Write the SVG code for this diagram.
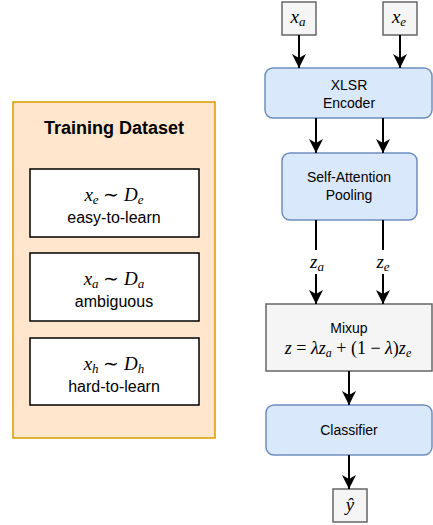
<svg xmlns="http://www.w3.org/2000/svg" width="433" height="525" viewBox="0 0 433 525">
<style>
.sans{font-family:"Liberation Sans",Arial,sans-serif;fill:#000}
.math{font-family:"Liberation Serif","Times New Roman",serif;font-style:italic;fill:#000}
.rm{font-style:normal}
.blue{fill:#dae8fc;stroke:#6c8ebf;stroke-width:1.5}
.grey{fill:#f5f5f5;stroke:#666666;stroke-width:1.5}
.white{fill:#ffffff;stroke:#000000;stroke-width:1.5}
.edge{stroke:#000;stroke-width:2;fill:none}
</style>
<defs>
<marker id="arr" markerUnits="userSpaceOnUse" markerWidth="14" markerHeight="14" viewBox="0 0 14 14" refX="14" refY="7" orient="auto">
<path d="M0,0 L14,7 L0,14 L4,7 z" fill="#000"/>
</marker>
</defs>
<g id="dataset">
<rect x="13" y="102" width="202" height="336" fill="#ffe6cc" stroke="#d79b00" stroke-width="1.5"/>
<text class="sans" x="114" y="134" text-anchor="middle" font-size="18" font-weight="bold">Training Dataset</text>
</g>
<g id="easy">
<rect class="white" x="30" y="169" width="169" height="68"/>
<text class="math" x="114" y="201" text-anchor="middle" font-size="19">x<tspan font-size="13" dy="3">e</tspan><tspan class="rm" dy="-3"> ∼ </tspan>D<tspan font-size="13" dy="3">e</tspan></text>
<text class="sans" x="114" y="223" text-anchor="middle" font-size="16">easy-to-learn</text>
</g>
<g id="ambiguous">
<rect class="white" x="30" y="253" width="169" height="68"/>
<text class="math" x="114" y="285" text-anchor="middle" font-size="19">x<tspan font-size="13" dy="3">a</tspan><tspan class="rm" dy="-3"> ∼ </tspan>D<tspan font-size="13" dy="3">a</tspan></text>
<text class="sans" x="114" y="307" text-anchor="middle" font-size="16">ambiguous</text>
</g>
<g id="hard">
<rect class="white" x="30" y="338" width="169" height="67"/>
<text class="math" x="114" y="370" text-anchor="middle" font-size="19">x<tspan font-size="13" dy="3">h</tspan><tspan class="rm" dy="-3"> ∼ </tspan>D<tspan font-size="13" dy="3">h</tspan></text>
<text class="sans" x="114" y="392" text-anchor="middle" font-size="16">hard-to-learn</text>
</g>
<g id="xa">
<rect class="grey" x="282" y="2" width="34" height="33"/>
<text class="math" x="298" y="23" text-anchor="middle" font-size="19">x<tspan font-size="13" dy="3">a</tspan></text>
</g>
<g id="xe">
<rect class="grey" x="383" y="2" width="34" height="33"/>
<text class="math" x="399" y="23" text-anchor="middle" font-size="19">x<tspan font-size="13" dy="3">e</tspan></text>
</g>
<g id="xlsr">
<rect class="blue" x="265" y="68" width="167" height="50" rx="8"/>
<text class="sans" x="349" y="90" text-anchor="middle" font-size="14">XLSR</text>
<text class="sans" x="349" y="108" text-anchor="middle" font-size="14">Encoder</text>
</g>
<g id="pooling">
<rect class="blue" x="282" y="153" width="135" height="67" rx="8"/>
<text class="sans" x="349" y="182" text-anchor="middle" font-size="14">Self-Attention</text>
<text class="sans" x="349" y="200" text-anchor="middle" font-size="14">Pooling</text>
</g>
<g id="za">
<text class="math" x="317" y="268" text-anchor="middle" font-size="19">z<tspan font-size="13" dy="3">a</tspan></text>
</g>
<g id="ze">
<text class="math" x="383" y="268" text-anchor="middle" font-size="19">z<tspan font-size="13" dy="3">e</tspan></text>
</g>
<g id="mixup">
<rect class="grey" x="266" y="304" width="166" height="67"/>
<text class="sans" x="349" y="333" text-anchor="middle" font-size="14">Mixup</text>
<text class="math" x="348" y="354" text-anchor="middle" font-size="18">z<tspan class="rm"> = </tspan>λz<tspan font-size="12" dy="3">a</tspan><tspan class="rm" dy="-3"> + (1 − </tspan>λ<tspan class="rm">)</tspan>z<tspan font-size="12" dy="3">e</tspan></text>
</g>
<g id="classifier">
<rect class="blue" x="266" y="405" width="166" height="50" rx="8"/>
<text class="sans" x="349" y="435" text-anchor="middle" font-size="14">Classifier</text>
</g>
<g id="yhat">
<rect class="grey" x="333" y="489" width="34" height="33"/>
<text class="math" x="350" y="511" text-anchor="middle" font-size="19">ŷ</text>
</g>
<g id="connectors">
<line class="edge" x1="299" y1="35" x2="299" y2="68" marker-end="url(#arr)"/>
<line class="edge" x1="400" y1="35" x2="400" y2="68" marker-end="url(#arr)"/>
<line class="edge" x1="316" y1="118" x2="316" y2="153" marker-end="url(#arr)"/>
<line class="edge" x1="383" y1="118" x2="383" y2="153" marker-end="url(#arr)"/>
<line class="edge" x1="316" y1="220" x2="316" y2="250"/>
<line class="edge" x1="383" y1="220" x2="383" y2="250"/>
<line class="edge" x1="316" y1="274" x2="316" y2="304" marker-end="url(#arr)"/>
<line class="edge" x1="383" y1="274" x2="383" y2="304" marker-end="url(#arr)"/>
<line class="edge" x1="349" y1="371" x2="349" y2="405" marker-end="url(#arr)"/>
<line class="edge" x1="349" y1="455" x2="349" y2="489" marker-end="url(#arr)"/>
</g>
</svg>
